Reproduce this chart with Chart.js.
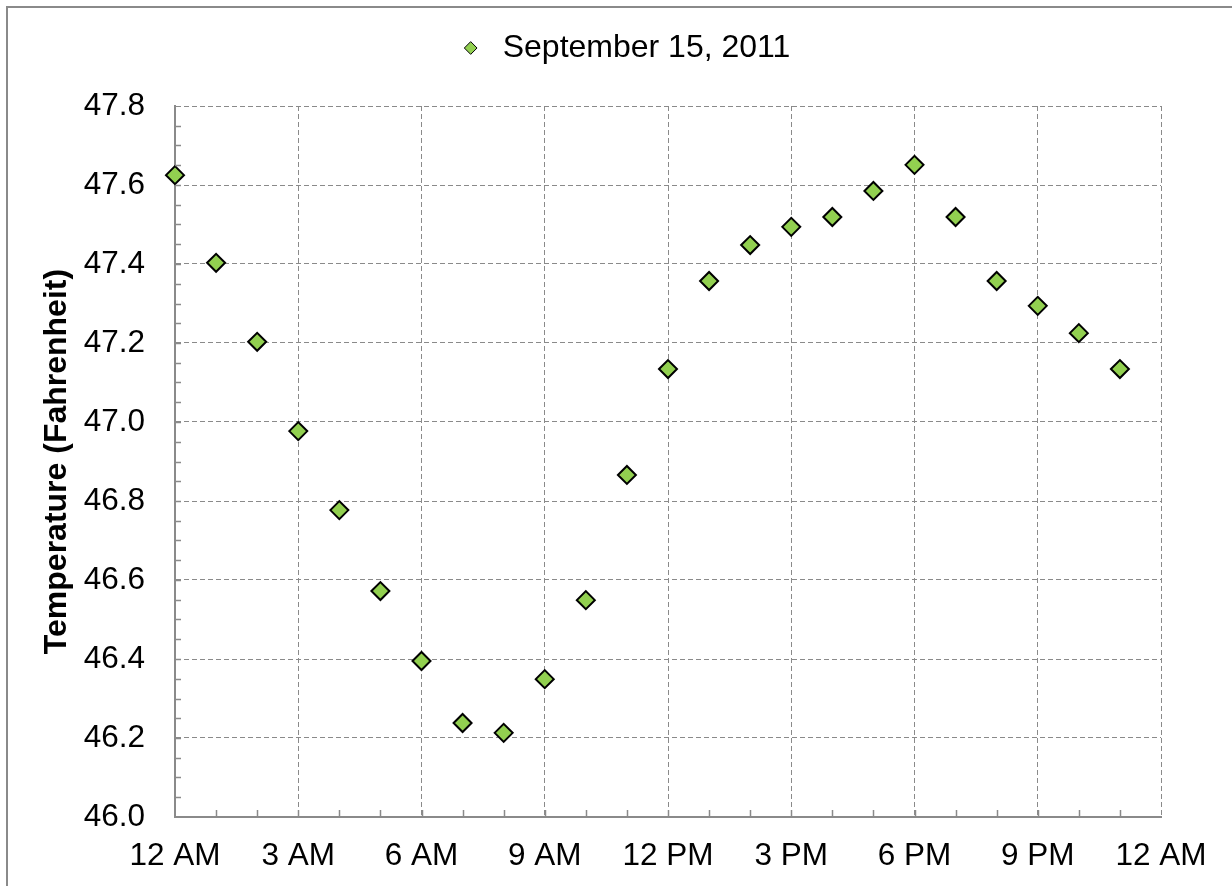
<!DOCTYPE html>
<html>
<head>
<meta charset="utf-8">
<script src="https://cdn.jsdelivr.net/npm/chart.js@4/dist/chart.umd.min.js"></script>
<style>
  html, body { margin: 0; padding: 0; background: #fff; }
  #wrap { position: relative; width: 1232px; height: 886px; overflow: hidden; }
  #frame { position: absolute; left: 6px; top: 6px; width: 1300px; height: 950px;
           border-top: 2px solid #8a8a8a; border-left: 2px solid #8a8a8a; pointer-events: none; }
</style>
</head>
<body>
<div id="wrap">
  <canvas id="tempChart" width="1232" height="886"></canvas>
  <div id="frame"></div>
</div>
<script>
// hours after midnight
const hours = [0, 1, 2, 3, 4, 5, 6, 7, 8, 9, 10, 11, 12, 13, 14, 15, 16, 17, 18, 19, 20, 21, 22, 23];

const temps = [
    47.625, 47.403, 47.203, 46.977, 46.777, 46.572, 46.395, 46.238,
    46.213, 46.349, 46.549, 46.866, 47.134, 47.357, 47.448, 47.494,
    47.519, 47.585, 47.651, 47.519, 47.357, 47.294, 47.225, 47.134
];

const timeLabels = ['12 AM', '3 AM', '6 AM', '9 AM', '12 PM', '3 PM', '6 PM', '9 PM', '12 AM'];

const seriesName = 'September 15, 2011';

const points = hours.map((h, i) => ({x: h, y: temps[i]}));

// small tick marks on the inside of the axes (every hour / every 0.05)
const minorTicks = {
    id: 'minorTicks',
    afterDatasetsDraw(chart) {
        const ctx = chart.ctx;
        const xs = chart.scales.x, ys = chart.scales.y;
        ctx.save();
        ctx.strokeStyle = '#8a8a8a';
        ctx.lineWidth = 1.5;
        ctx.beginPath();
        for (let h = 1; h < 24; h++) {
            const px = Math.round(xs.getPixelForValue(h)) + 0.5;
            ctx.moveTo(px, ys.bottom);
            ctx.lineTo(px, ys.bottom - 7);
        }
        for (let k = 1; k < 36; k++) {
            const py = Math.round(ys.getPixelForValue(46 + k * 0.05)) + 0.5;
            ctx.moveTo(xs.left, py);
            ctx.lineTo(xs.left + 6, py);
        }
        ctx.stroke();
        ctx.restore();
    }
};

// legend box: fixed height, nudged right like the original
const legendPlace = {
    id: 'legendPlace',
    beforeInit(chart) {
        const fit = chart.legend.fit;
        chart.legend.fit = function () {
            fit.bind(chart.legend)();
            this.height = 92;
        };
    },
    afterLayout(chart) {
        chart.legend.left += 42;
        chart.legend.right += 42;
    }
};

const config = {
    type: 'scatter',
    data: {
        datasets: [{
            label: seriesName,
            data: points,
            pointStyle: 'rectRot',
            pointRadius: 9,
            pointHoverRadius: 9,
            backgroundColor: '#92d050',
            borderColor: '#000000',
            borderWidth: 2,
            clip: false
        }]
    },
    options: {
        responsive: false,
        animation: false,
        layout: {
            padding: {top: 14, right: 71, bottom: 0, left: 0}
        },
        plugins: {
            legend: {
                position: 'top',
                labels: {
                    usePointStyle: true,
                    boxHeight: 9,
                    color: '#000',
                    font: {family: 'Liberation Sans', size: 32},
                    padding: 18,
                    generateLabels(chart) {
                        const items = Chart.defaults.plugins.legend.labels.generateLabels(chart);
                        items.forEach(it => { it.lineWidth = 1; });
                        return items;
                    }
                }
            },
            tooltip: {enabled: false}
        },
        scales: {
            x: {
                type: 'linear',
                min: 0,
                max: 24,
                afterFit(scale) { scale.height = 69; },
                ticks: {
                    stepSize: 3,
                    autoSkip: false,
                    maxRotation: 0,
                    padding: 20,
                    color: '#000',
                    font: {family: 'Liberation Sans', size: 31.5},
                    callback: (v) => timeLabels[Math.round(v / 3)]
                },
                grid: {
                    color: '#8a8a8a',
                    lineWidth: 1,
                    drawTicks: false
                },
                border: {color: '#8a8a8a', width: 2, dash: [5, 3]}
            },
            y: {
                min: 46,
                max: 47.8,
                afterFit(scale) { scale.width = 175; },
                ticks: {
                    stepSize: 0.2,
                    padding: 30,
                    color: '#000',
                    font: {family: 'Liberation Sans', size: 31.5},
                    callback: (v) => v.toFixed(1)
                },
                grid: {
                    color: '#8a8a8a',
                    lineWidth: 1,
                    drawTicks: false
                },
                border: {color: '#8a8a8a', width: 2, dash: [5, 3]},
                title: {
                    display: true,
                    text: 'Temperature (Fahrenheit)',
                    color: '#000',
                    font: {family: 'Liberation Sans', size: 32, weight: 'bold'},
                    padding: {top: 38, bottom: 0}
                }
            }
        }
    },
    plugins: [minorTicks, legendPlace]
};

const tempChart = new Chart(
document.getElementById('tempChart').getContext('2d'),
config
);
</script>
</body>
</html>
